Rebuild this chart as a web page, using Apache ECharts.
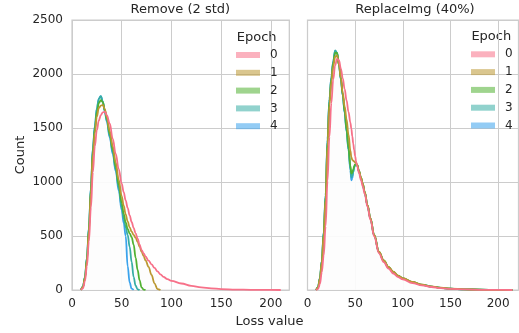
<!DOCTYPE html>
<html><head><meta charset="utf-8">
<script src="https://cdn.jsdelivr.net/npm/echarts@6/dist/echarts.min.js"></script>
<style>html,body{margin:0;padding:0;background:#fff}#c{width:519px;height:333px}</style>
</head><body><div id="c"></div>
<script>
// ---- data ----
const epochs = ['0', '1', '2', '3', '4'];
const panelTitles = ['Remove (2 std)', 'ReplaceImg (40%)'];
const xTicks = [0, 50, 100, 150, 200];
const yTicks = [0, 500, 1000, 1500, 2000, 2500];

// Remove (2 std) panel: loss values and KDE counts per epoch (null = outside data range)
const removeX = [9, 11, 13, 15, 17, 19, 21, 23, 25, 27, 29, 31, 33, 35, 38, 41, 44, 47, 50, 52, 54, 56, 58, 60, 62, 64, 66, 68, 70, 72, 74, 77, 80, 83, 86, 89, 92, 96, 100, 110, 120, 130, 140, 150, 165, 180, 195, 210];
const removeY0 = [0, 15, 80, 220, 450, 760, 1090, 1330, 1480, 1570, 1620, 1645, 1651, 1620, 1540, 1400, 1260, 1120, 985, 905, 830, 760, 690, 630, 575, 525, 475, 420, 370, 340, 310, 272, 238, 205, 172, 145, 122, 100, 85, 60, 38, 24, 15, 9, 4, 2, 1, 0];
const removeY1 = [0, 26, 105, 270, 540, 900, 1250, 1455, 1605, 1685, 1708, 1713, 1675, 1600, 1470, 1330, 1180, 1020, 870, 780, 700, 635, 580, 540, 510, 485, 445, 400, 355, 315, 275, 215, 140, 62, 8, 0, null, null, null, null, null, null, null, null, null, null, null, null];
const removeY2 = [0, 28, 112, 285, 560, 925, 1285, 1490, 1645, 1730, 1758, 1740, 1665, 1585, 1445, 1300, 1140, 975, 805, 705, 625, 565, 525, 490, 420, 300, 185, 90, 25, 4, 0, null, null, null, null, null, null, null, null, null, null, null, null, null, null, null, null, null];
const removeY3 = [0, 30, 118, 295, 575, 945, 1310, 1515, 1680, 1770, 1796, 1745, 1660, 1570, 1425, 1275, 1115, 945, 770, 660, 580, 510, 400, 260, 120, 40, 6, 0, null, null, null, null, null, null, null, null, null, null, null, null, null, null, null, null, null, null, null, null];
const removeY4 = [0, 30, 120, 300, 580, 950, 1320, 1520, 1680, 1770, 1796, 1740, 1650, 1560, 1410, 1260, 1100, 920, 740, 620, 500, 220, 70, 12, 0, null, null, null, null, null, null, null, null, null, null, null, null, null, null, null, null, null, null, null, null, null, null, null];

// ReplaceImg (40%) panel
const replaceX = [9, 11, 13, 15, 17, 19, 21, 23, 25, 27, 29, 31, 33, 35, 37, 39, 41, 43, 45, 46, 47, 48, 49, 50, 51, 52, 54, 56, 58, 60, 63, 66, 70, 75, 80, 85, 90, 95, 100, 110, 120, 130, 140, 150, 165, 180, 200, 215];
const replaceY0 = [0, 8, 55, 165, 320, 590, 1010, 1420, 1730, 1950, 2080, 2140, 2128, 2050, 1960, 1860, 1755, 1650, 1550, 1495, 1425, 1355, 1295, 1240, 1190, 1150, 1085, 1020, 960, 890, 770, 650, 495, 340, 258, 198, 153, 120, 98, 64, 43, 28, 17, 10, 5, 2, 1, 0];
const replaceY1 = [0, 22, 100, 250, 505, 830, 1330, 1710, 1920, 2070, 2160, 2172, 2090, 1965, 1825, 1700, 1580, 1440, 1290, 1230, 1205, 1197, 1190, 1182, 1172, 1162, 1105, 1045, 985, 910, 785, 665, 510, 355, 275, 215, 170, 134, 110, 74, 50, 33, 21, 13, 6, 3, 1, 0];
const replaceY2 = [0, 24, 105, 262, 525, 860, 1370, 1745, 1950, 2100, 2195, 2195, 2090, 1960, 1810, 1655, 1490, 1320, 1150, 1080, 1085, 1115, 1145, 1163, 1167, 1160, 1103, 1043, 983, 908, 783, 663, 508, 353, 273, 213, 168, 132, 108, 73, 49, 32, 20, 12, 6, 3, 1, 0];
const replaceY3 = [0, 25, 108, 268, 535, 875, 1390, 1765, 1965, 2115, 2218, 2198, 2087, 1952, 1802, 1642, 1472, 1302, 1125, 1045, 1055, 1095, 1138, 1160, 1167, 1160, 1100, 1040, 980, 905, 780, 660, 505, 350, 270, 210, 165, 130, 107, 72, 48, 32, 20, 12, 6, 3, 1, 0];
const replaceY4 = [0, 25, 110, 270, 540, 880, 1400, 1770, 1970, 2120, 2215, 2195, 2085, 1950, 1800, 1640, 1470, 1300, 1110, 1015, 1035, 1090, 1135, 1160, 1167, 1160, 1100, 1040, 980, 905, 780, 660, 505, 350, 270, 210, 165, 130, 107, 72, 48, 32, 20, 12, 6, 3, 1, 0];

// ---- styling ----
const colors = ['#f77189', '#bb9832', '#50b131', '#36ada4', '#3ba3ec'];
const FONT = 'DejaVu Sans';
const TXT = '#262626';
const GRIDC = '#cccccc';

function rgba(hex, a) {
  const n = parseInt(hex.slice(1), 16);
  return 'rgba(' + (n >> 16 & 255) + ',' + (n >> 8 & 255) + ',' + (n & 255) + ',' + a + ')';
}
function pairs(xs, ys) {
  const out = [];
  xs.forEach((x, i) => { if (ys[i] !== null) out.push([x, ys[i]]); });
  return out;
}

const panels = [
  { xs: removeX, ys: [removeY0, removeY1, removeY2, removeY3, removeY4], grid: { left: 72, top: 20, width: 217.3, height: 270 }, xmax: 218.6, showY: true },
  { xs: replaceX, ys: [replaceY0, replaceY1, replaceY2, replaceY3, replaceY4], grid: { left: 307.5, top: 20, width: 211, height: 270 }, xmax: 221.4, showY: false }
];

const grids = [], xAxes = [], yAxes = [], series = [];
panels.forEach((p, pi) => {
  grids.push(Object.assign({ show: true, borderColor: GRIDC, borderWidth: 1.25, backgroundColor: 'transparent' }, p.grid));
  xAxes.push({
    type: 'value', gridIndex: pi, min: 0, max: p.xmax, interval: 50,
    axisLine: { show: false }, axisTick: { show: false },
    splitLine: { show: true, lineStyle: { color: GRIDC, width: 1 } },
    axisLabel: {
      show: true, margin: 8, fontSize: 12, color: TXT, fontFamily: FONT,
      showMaxLabel: false,
      formatter: v => (xTicks.indexOf(v) >= 0 ? String(v) : '')
    }
  });
  yAxes.push({
    type: 'value', gridIndex: pi, min: yTicks[0], max: yTicks[yTicks.length - 1], interval: 500,
    axisLine: { show: false }, axisTick: { show: false },
    splitLine: { show: true, lineStyle: { color: GRIDC, width: 1 } },
    axisLabel: { show: p.showY, margin: 9, fontSize: 12, color: TXT, fontFamily: FONT, formatter: v => String(v) }
  });
  // histogram-like faint fills beneath the curves
  for (let e = epochs.length - 1; e >= 0; e--) {
    series.push({
      type: 'line', name: 'hist' + e, xAxisIndex: pi, yAxisIndex: pi,
      data: pairs(p.xs, p.ys[e]), showSymbol: false, symbol: 'none', silent: true,
      smooth: 0.4, smoothMonotone: 'x', z: 1,
      lineStyle: { width: 0, opacity: 0 },
      areaStyle: { color: 'rgba(253,252,252,0.6)' },
      animation: false
    });
  }
  // KDE lines, epoch 0 on top
  for (let e = epochs.length - 1; e >= 0; e--) {
    series.push({
      type: 'line', name: epochs[e], xAxisIndex: pi, yAxisIndex: pi,
      data: pairs(p.xs, p.ys[e]), showSymbol: false, symbol: 'none',
      smooth: 0.4, smoothMonotone: 'x', z: 3,
      lineStyle: { width: 1.8, color: colors[e] },
      itemStyle: { color: colors[e] },
      animation: false
    });
  }
});

function legendAt(left, top) {
  return {
    left: left, top: top, orient: 'vertical', padding: 0, itemGap: 3.8,
    itemWidth: 24, itemHeight: 6, icon: 'rect', selectedMode: false,
    data: epochs.map((n, i) => ({ name: n, itemStyle: { color: rgba(colors[i], 0.55), borderWidth: 0 } })),
    textStyle: { fontSize: 12, color: TXT, fontFamily: FONT, lineHeight: 14, padding: [0, 0, 0, 5] }
  };
}

function label(text, x, y, size, rot) {
  return {
    type: 'text', x: x, y: y, rotation: rot || 0, silent: true,
    style: { text: text, fill: TXT, fontSize: size, fontFamily: FONT, align: 'center', verticalAlign: 'middle' }
  };
}

const chart = echarts.init(document.getElementById('c'), null, { renderer: 'canvas' });
chart.setOption({
  backgroundColor: '#ffffff',
  animation: false,
  grid: grids, xAxis: xAxes, yAxis: yAxes, series: series,
  legend: [legendAt(236, 48), legendAt(471, 47.3)],
  graphic: [
    label(panelTitles[0], 180.3, 10, 13),
    label(panelTitles[1], 415, 10, 13),
    label('Epoch', 256.7, 37.7, 13),
    label('Epoch', 491.3, 36.3, 13),
    label('Count', 20.7, 155, 13, Math.PI / 2),
    label('Loss value', 269.5, 321.7, 13)
  ]
});
</script></body></html>
